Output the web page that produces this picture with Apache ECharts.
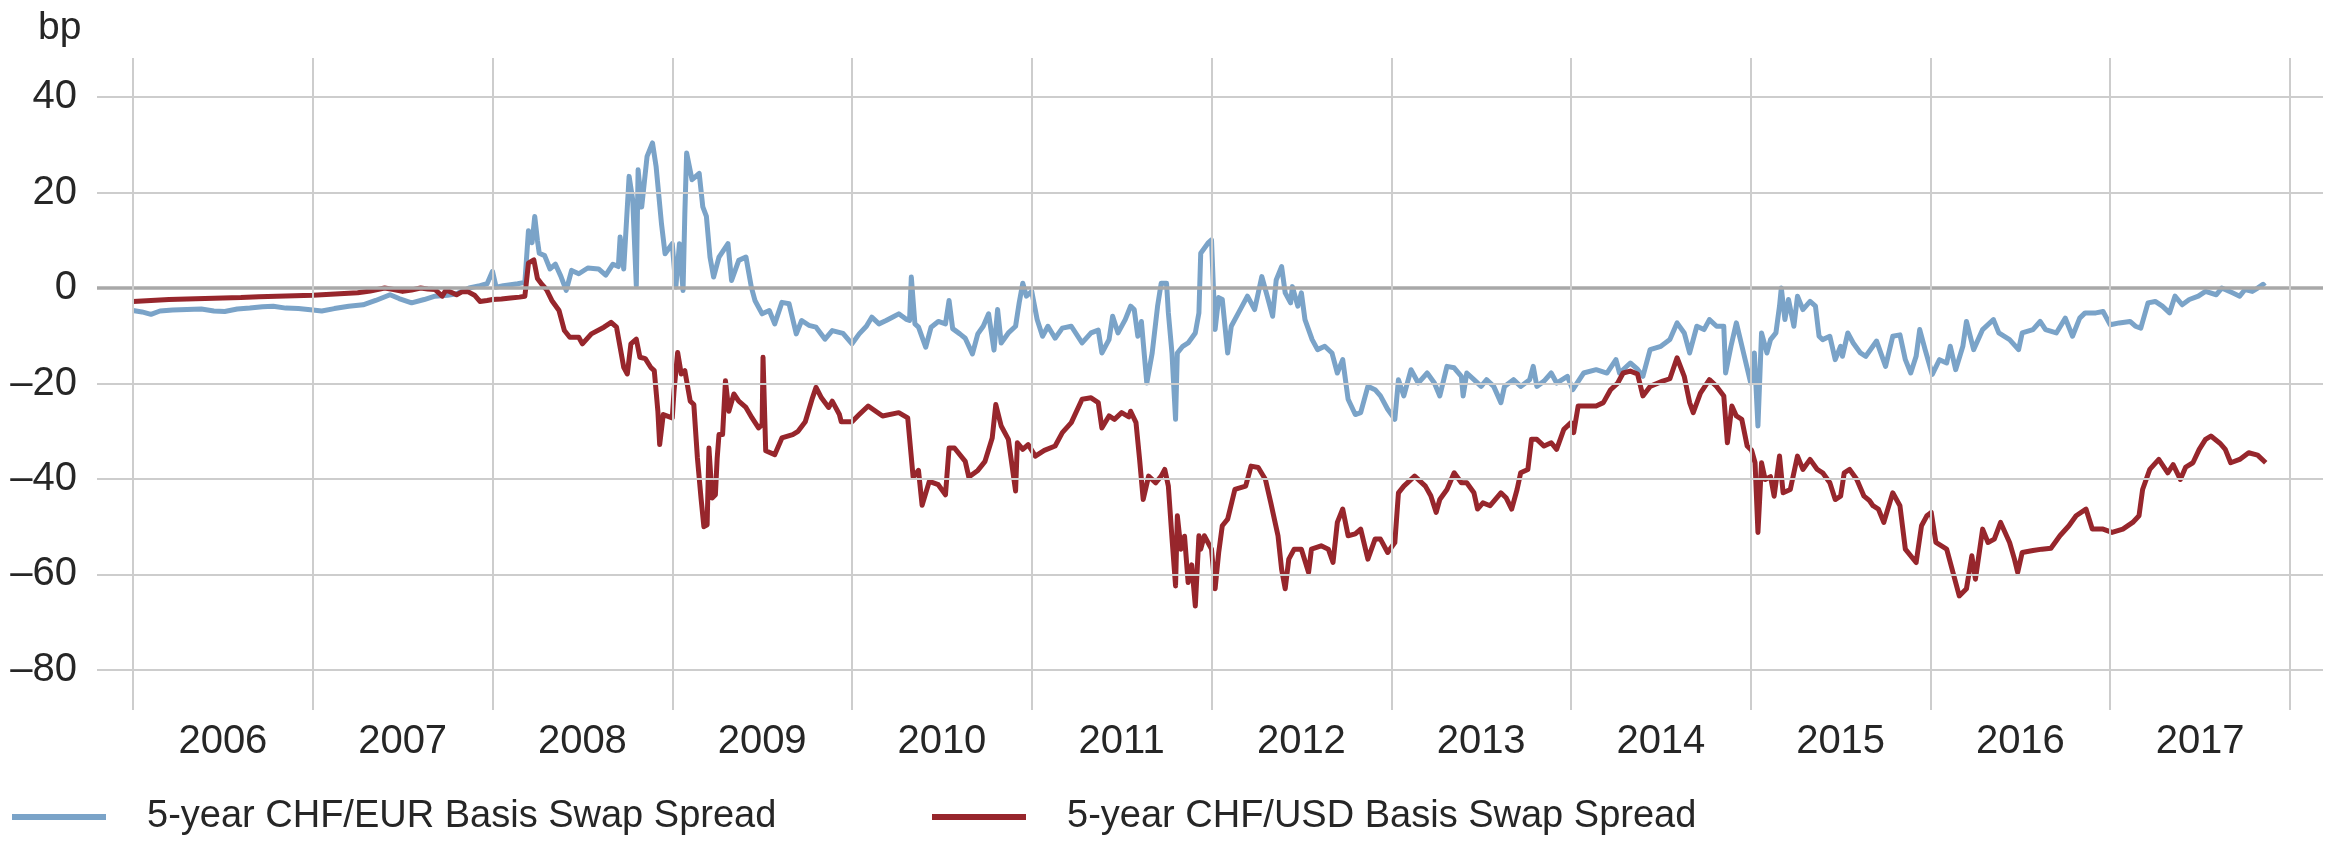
<!DOCTYPE html>
<html>
<head>
<meta charset="utf-8">
<title>5-year CHF basis swap spreads</title>
<script src="https://cdn.jsdelivr.net/npm/echarts@6.0.0/dist/echarts.min.js"></script>
<style>
  html, body { margin: 0; padding: 0; background: #fff; }
  #chart { width: 2338px; height: 841px; }
</style>
</head>
<body>
<div id="chart"></div>
<script>
// x = decimal year, y = spread in bp
const yearLabels = [2006, 2007, 2008, 2009, 2010, 2011, 2012, 2013, 2014, 2015, 2016, 2017];
const yearLines = [2006, 2007, 2008, 2009, 2010, 2011, 2012, 2013, 2014, 2015, 2016, 2017, 2018];
const valueTicks = [-80, -60, -40, -20, 0, 20, 40];
const seriesNames = ['5-year CHF/EUR Basis Swap Spread', '5-year CHF/USD Basis Swap Spread'];

const chfEur = [
  [2006.00,-4.7],[2006.05,-5.0],[2006.10,-5.5],[2006.15,-4.8],[2006.22,-4.6],[2006.30,-4.5],[2006.38,-4.4],
  [2006.45,-4.8],[2006.51,-4.9],[2006.58,-4.4],[2006.65,-4.2],[2006.72,-3.9],[2006.78,-3.8],[2006.85,-4.2],
  [2006.92,-4.3],[2007.00,-4.6],[2007.05,-4.8],[2007.12,-4.3],[2007.20,-3.8],[2007.28,-3.5],[2007.35,-2.6],
  [2007.43,-1.4],[2007.48,-2.2],[2007.55,-3.1],[2007.62,-2.4],[2007.68,-1.7],[2007.75,-1.5],[2007.80,-1.2],
  [2007.87,0.0],[2007.93,0.5],[2007.97,0.9],[2008.00,3.5],[2008.02,0.2],[2008.06,0.5],[2008.10,0.7],
  [2008.14,0.9],[2008.18,1.2],[2008.20,12.0],[2008.22,9.5],[2008.235,15.0],[2008.25,10.0],[2008.26,7.3],
  [2008.29,6.8],[2008.32,4.0],[2008.35,5.0],[2008.38,2.5],[2008.41,-0.5],[2008.44,3.7],[2008.48,3.0],
  [2008.53,4.2],[2008.59,4.0],[2008.63,2.7],[2008.67,5.0],[2008.70,4.5],[2008.71,10.7],[2008.73,4.0],
  [2008.76,23.4],[2008.78,18.5],[2008.80,0.5],[2008.81,24.8],[2008.83,17.0],[2008.86,27.6],[2008.89,30.4],
  [2008.91,25.5],[2008.94,13.5],[2008.96,7.2],[2009.00,9.3],[2009.02,0.2],[2009.04,9.3],[2009.06,-0.5],
  [2009.07,15.6],[2009.08,28.3],[2009.11,22.7],[2009.15,24.0],[2009.17,17.0],[2009.19,15.0],[2009.21,6.5],
  [2009.23,2.3],[2009.26,6.5],[2009.31,9.3],[2009.33,1.6],[2009.37,5.8],[2009.41,6.5],[2009.44,0.2],
  [2009.46,-2.6],[2009.50,-5.4],[2009.54,-4.7],[2009.57,-7.5],[2009.61,-3.0],[2009.65,-3.3],[2009.69,-9.6],
  [2009.72,-6.8],[2009.76,-7.8],[2009.80,-8.2],[2009.85,-10.7],[2009.89,-8.9],[2009.95,-9.5],[2010.00,-11.7],
  [2010.04,-9.6],[2010.08,-8.0],[2010.11,-6.1],[2010.15,-7.5],[2010.19,-6.8],[2010.23,-6.0],[2010.26,-5.4],
  [2010.30,-6.5],[2010.32,-6.8],[2010.33,2.3],[2010.35,-7.5],[2010.37,-8.2],[2010.41,-12.4],[2010.44,-8.2],
  [2010.48,-7.0],[2010.52,-7.5],[2010.54,-2.6],[2010.56,-8.5],[2010.60,-9.6],[2010.63,-10.5],[2010.67,-13.8],
  [2010.70,-9.6],[2010.73,-8.0],[2010.76,-5.4],[2010.79,-13.0],[2010.81,-4.5],[2010.83,-11.5],[2010.87,-9.4],
  [2010.91,-8.0],[2010.93,-3.1],[2010.95,1.0],[2010.97,-1.7],[2011.00,-0.7],[2011.03,-6.6],[2011.06,-10.1],
  [2011.09,-8.0],[2011.13,-10.5],[2011.17,-8.4],[2011.22,-8.0],[2011.28,-11.5],[2011.33,-9.4],[2011.37,-8.8],
  [2011.39,-13.6],[2011.43,-10.8],[2011.45,-5.9],[2011.48,-9.4],[2011.52,-6.6],[2011.55,-3.8],[2011.57,-4.5],
  [2011.59,-10.1],[2011.61,-7.0],[2011.64,-19.9],[2011.67,-13.6],[2011.70,-3.8],[2011.72,1.0],[2011.75,1.0],
  [2011.76,-5.2],[2011.78,-13.6],[2011.80,-27.5],[2011.81,-13.6],[2011.84,-12.2],[2011.87,-11.5],[2011.91,-9.4],
  [2011.93,-5.2],[2011.94,7.3],[2011.98,9.4],[2012.00,10.1],[2012.02,-8.7],[2012.04,-2.0],[2012.06,-2.4],
  [2012.09,-13.6],[2012.11,-8.0],[2012.15,-5.2],[2012.20,-1.7],[2012.24,-4.5],[2012.28,2.4],[2012.31,-1.7],
  [2012.34,-5.9],[2012.36,1.7],[2012.39,4.5],[2012.41,-1.0],[2012.44,-3.1],[2012.45,0.3],[2012.48,-3.8],
  [2012.50,-1.0],[2012.52,-6.6],[2012.56,-10.8],[2012.59,-12.9],[2012.63,-12.2],[2012.67,-13.6],[2012.70,-17.8],
  [2012.73,-15.0],[2012.76,-23.3],[2012.80,-26.5],[2012.83,-26.1],[2012.87,-20.6],[2012.91,-21.3],[2012.94,-22.6],
  [2012.98,-25.4],[2013.02,-27.5],[2013.04,-19.2],[2013.07,-22.6],[2013.11,-17.1],[2013.15,-19.9],[2013.20,-17.8],
  [2013.24,-19.9],[2013.27,-22.6],[2013.31,-16.4],[2013.35,-16.7],[2013.39,-18.5],[2013.40,-22.6],[2013.42,-17.8],
  [2013.46,-19.2],[2013.50,-20.6],[2013.53,-19.2],[2013.57,-20.6],[2013.61,-24.0],[2013.63,-20.6],[2013.68,-19.2],
  [2013.72,-20.6],[2013.77,-19.2],[2013.79,-16.4],[2013.81,-20.6],[2013.85,-19.5],[2013.89,-17.8],[2013.92,-19.9],
  [2013.98,-18.5],[2014.01,-21.3],[2014.07,-17.8],[2014.14,-17.1],[2014.20,-17.8],[2014.25,-15.0],[2014.27,-17.8],
  [2014.33,-15.7],[2014.37,-17.0],[2014.40,-18.5],[2014.44,-12.9],[2014.50,-12.2],[2014.55,-10.8],[2014.59,-7.3],
  [2014.63,-9.4],[2014.66,-13.6],[2014.70,-8.0],[2014.74,-8.7],[2014.77,-6.6],[2014.81,-8.0],[2014.85,-8.0],
  [2014.86,-17.8],[2014.89,-12.2],[2014.92,-7.3],[2014.96,-13.6],[2015.00,-19.9],[2015.02,-13.6],[2015.04,-28.9],
  [2015.06,-9.4],[2015.09,-13.6],[2015.11,-10.8],[2015.14,-9.4],[2015.16,-3.8],[2015.17,0.0],[2015.19,-6.6],
  [2015.21,-2.4],[2015.24,-8.0],[2015.26,-1.7],[2015.29,-4.5],[2015.33,-2.8],[2015.36,-3.8],[2015.38,-10.1],
  [2015.40,-10.8],[2015.44,-10.1],[2015.47,-15.0],[2015.50,-12.2],[2015.51,-14.3],[2015.54,-9.4],[2015.57,-11.5],
  [2015.61,-13.6],[2015.64,-14.3],[2015.70,-11.1],[2015.75,-16.4],[2015.79,-10.1],[2015.83,-9.8],[2015.86,-15.0],
  [2015.89,-17.8],[2015.92,-14.3],[2015.94,-8.7],[2015.97,-12.9],[2016.01,-18.1],[2016.05,-15.0],[2016.09,-15.7],
  [2016.11,-12.2],[2016.14,-17.1],[2016.18,-12.2],[2016.20,-7.0],[2016.24,-12.9],[2016.29,-8.7],[2016.35,-6.6],
  [2016.38,-9.4],[2016.44,-10.8],[2016.49,-12.9],[2016.51,-9.4],[2016.57,-8.7],[2016.61,-7.0],[2016.64,-8.7],
  [2016.70,-9.4],[2016.75,-6.3],[2016.79,-10.1],[2016.83,-6.3],[2016.86,-5.2],[2016.92,-5.2],[2016.96,-4.9],
  [2017.00,-7.7],[2017.05,-7.3],[2017.11,-7.0],[2017.14,-8.0],[2017.17,-8.4],[2017.21,-3.1],[2017.25,-2.8],
  [2017.29,-3.8],[2017.33,-5.2],[2017.36,-1.7],[2017.40,-3.5],[2017.44,-2.4],[2017.49,-1.7],[2017.53,-0.7],
  [2017.59,-1.4],[2017.62,0.0],[2017.68,-1.0],[2017.72,-1.7],[2017.75,-0.3],[2017.79,-0.7],[2017.82,0.0],
  [2017.85,0.8],[2017.86,0.4]
];

const chfUsd = [
  [2006.00,-2.8],[2006.10,-2.6],[2006.20,-2.4],[2006.30,-2.3],[2006.40,-2.2],[2006.50,-2.1],[2006.60,-2.0],
  [2006.70,-1.8],[2006.80,-1.7],[2006.90,-1.6],[2007.00,-1.5],[2007.10,-1.3],[2007.20,-1.1],[2007.25,-1.0],
  [2007.32,-0.6],[2007.40,0.0],[2007.45,-0.3],[2007.50,-0.7],[2007.55,-0.4],[2007.60,0.0],[2007.64,-0.2],
  [2007.68,-0.3],[2007.72,-1.7],[2007.74,-0.5],[2007.76,-0.7],[2007.80,-1.4],[2007.83,-0.8],[2007.86,-0.7],
  [2007.90,-1.5],[2007.93,-2.8],[2007.97,-2.6],[2008.00,-2.4],[2008.05,-2.3],[2008.10,-2.1],[2008.15,-1.9],
  [2008.18,-1.7],[2008.20,5.2],[2008.23,5.9],[2008.25,2.0],[2008.27,1.0],[2008.30,-0.3],[2008.33,-2.6],
  [2008.37,-4.7],[2008.40,-8.9],[2008.43,-10.3],[2008.48,-10.3],[2008.50,-11.7],[2008.55,-9.6],[2008.62,-8.2],
  [2008.66,-7.2],[2008.69,-8.2],[2008.71,-12.4],[2008.73,-16.6],[2008.75,-18.0],[2008.77,-11.7],[2008.80,-10.7],
  [2008.82,-14.5],[2008.85,-14.8],[2008.88,-16.6],[2008.90,-17.3],[2008.92,-25.8],[2008.93,-32.8],[2008.95,-26.5],
  [2009.00,-27.2],[2009.01,-21.5],[2009.03,-13.5],[2009.05,-18.0],[2009.07,-17.3],[2009.10,-23.7],[2009.12,-24.4],
  [2009.14,-35.6],[2009.16,-44.0],[2009.176,-50.0],[2009.194,-49.6],[2009.204,-33.5],[2009.222,-44.0],
  [2009.24,-43.3],[2009.25,-35.6],[2009.26,-30.7],[2009.28,-30.7],[2009.296,-19.4],[2009.315,-25.8],
  [2009.343,-22.2],[2009.37,-23.7],[2009.41,-25.0],[2009.444,-27.2],[2009.48,-29.3],[2009.50,-28.6],
  [2009.505,-14.5],[2009.52,-34.1],[2009.57,-34.9],[2009.61,-31.4],[2009.67,-30.7],[2009.70,-30.0],
  [2009.74,-28.0],[2009.78,-23.0],[2009.80,-20.8],[2009.83,-23.0],[2009.87,-25.0],[2009.89,-23.7],
  [2009.93,-26.5],[2009.94,-28.0],[2010.00,-28.0],[2010.04,-26.5],[2010.09,-24.7],[2010.17,-26.8],
  [2010.26,-26.1],[2010.31,-27.2],[2010.34,-39.6],[2010.37,-38.2],[2010.39,-45.5],[2010.43,-40.5],
  [2010.48,-41.2],[2010.52,-43.3],[2010.54,-33.5],[2010.57,-33.5],[2010.63,-36.3],[2010.65,-39.6],
  [2010.70,-38.2],[2010.74,-36.3],[2010.78,-31.4],[2010.80,-24.4],[2010.83,-28.9],[2010.87,-31.7],
  [2010.91,-42.5],[2010.92,-32.4],[2010.95,-33.8],[2010.98,-32.8],[2011.02,-35.2],[2011.07,-34.0],
  [2011.13,-33.1],[2011.17,-30.3],[2011.22,-28.2],[2011.28,-23.3],[2011.33,-23.0],[2011.37,-24.0],
  [2011.39,-29.3],[2011.43,-26.8],[2011.46,-27.5],[2011.50,-26.1],[2011.54,-27.0],[2011.55,-25.8],
  [2011.58,-28.2],[2011.60,-35.9],[2011.62,-44.3],[2011.65,-39.4],[2011.69,-40.8],[2011.72,-39.4],
  [2011.74,-38.0],[2011.76,-41.5],[2011.78,-52.3],[2011.80,-62.4],[2011.81,-47.7],[2011.83,-54.7],
  [2011.85,-52.0],[2011.87,-61.7],[2011.89,-58.0],[2011.91,-66.6],[2011.93,-51.9],[2011.94,-54.7],
  [2011.96,-51.9],[2012.00,-54.7],[2012.02,-63.0],[2012.04,-55.4],[2012.06,-49.8],[2012.09,-48.4],
  [2012.13,-42.2],[2012.19,-41.5],[2012.22,-37.3],[2012.26,-37.6],[2012.30,-40.1],[2012.33,-45.0],
  [2012.37,-51.9],[2012.39,-58.9],[2012.41,-63.0],[2012.43,-56.8],[2012.46,-54.7],[2012.50,-54.7],
  [2012.54,-59.6],[2012.556,-54.7],[2012.61,-54.0],[2012.65,-54.7],[2012.676,-57.5],[2012.70,-49.1],
  [2012.73,-46.3],[2012.76,-51.9],[2012.80,-51.5],[2012.83,-50.5],[2012.87,-56.8],[2012.91,-52.6],
  [2012.94,-52.6],[2012.98,-55.4],[2013.02,-53.3],[2013.04,-42.9],[2013.07,-41.5],[2013.13,-39.4],
  [2013.19,-41.5],[2013.22,-43.5],[2013.25,-47.0],[2013.27,-44.3],[2013.31,-42.2],[2013.35,-38.7],
  [2013.39,-40.8],[2013.42,-40.8],[2013.46,-42.9],[2013.48,-46.3],[2013.51,-45.0],[2013.55,-45.6],
  [2013.61,-42.9],[2013.64,-44.0],[2013.67,-46.3],[2013.70,-42.2],[2013.72,-38.7],[2013.76,-38.0],
  [2013.78,-31.7],[2013.81,-31.7],[2013.85,-33.1],[2013.89,-32.4],[2013.92,-33.8],[2013.96,-29.6],
  [2014.00,-28.2],[2014.015,-30.3],[2014.04,-24.7],[2014.09,-24.7],[2014.14,-24.7],[2014.18,-24.0],
  [2014.22,-21.3],[2014.26,-19.9],[2014.29,-17.8],[2014.33,-17.4],[2014.37,-18.0],[2014.40,-22.6],
  [2014.44,-20.6],[2014.51,-19.5],[2014.55,-19.0],[2014.59,-14.6],[2014.63,-18.5],[2014.66,-24.0],
  [2014.68,-26.1],[2014.72,-22.0],[2014.77,-19.2],[2014.81,-20.6],[2014.85,-22.6],[2014.87,-32.4],
  [2014.895,-24.7],[2014.92,-26.8],[2014.95,-27.5],[2014.98,-33.1],[2015.005,-34.0],[2015.024,-36.6],
  [2015.04,-51.2],[2015.06,-36.6],[2015.08,-40.1],[2015.11,-39.5],[2015.13,-43.6],[2015.16,-35.2],
  [2015.18,-42.9],[2015.22,-42.2],[2015.26,-35.2],[2015.29,-38.0],[2015.33,-35.9],[2015.37,-38.0],
  [2015.40,-38.7],[2015.44,-40.8],[2015.47,-44.3],[2015.50,-43.6],[2015.52,-38.7],[2015.55,-38.0],
  [2015.59,-40.1],[2015.63,-43.6],[2015.66,-44.5],[2015.68,-45.6],[2015.71,-46.3],[2015.74,-49.1],
  [2015.79,-42.9],[2015.83,-45.6],[2015.86,-54.7],[2015.92,-57.5],[2015.95,-49.8],[2015.98,-47.7],
  [2016.004,-47.0],[2016.03,-53.3],[2016.09,-54.7],[2016.12,-58.9],[2016.16,-64.5],[2016.20,-63.0],
  [2016.23,-56.1],[2016.25,-61.0],[2016.29,-50.5],[2016.32,-53.3],[2016.355,-52.6],[2016.39,-49.1],
  [2016.44,-53.3],[2016.467,-56.8],[2016.485,-59.6],[2016.51,-55.4],[2016.57,-55.0],[2016.62,-54.7],
  [2016.67,-54.5],[2016.72,-51.9],[2016.77,-49.8],[2016.81,-47.7],[2016.865,-46.3],[2016.90,-50.5],
  [2016.96,-50.5],[2017.01,-51.2],[2017.07,-50.5],[2017.125,-49.1],[2017.16,-47.7],[2017.18,-42.2],
  [2017.22,-38.0],[2017.27,-35.9],[2017.32,-38.7],[2017.35,-37.0],[2017.39,-40.1],[2017.42,-37.5],
  [2017.46,-36.6],[2017.495,-33.8],[2017.53,-31.7],[2017.56,-31.0],[2017.61,-32.5],[2017.64,-33.8],
  [2017.67,-36.6],[2017.72,-35.9],[2017.77,-34.5],[2017.82,-35.0],[2017.865,-36.6]
];

const FONT = '"Liberation Sans", Arial, sans-serif';
const TEXT_COLOR = '#262626';

let chart = echarts.init(document.getElementById('chart'), null, { renderer: 'canvas' });

// grid lines as mark lines on a data-less series, so they sit below the two spreads
let gridLines = [];
valueTicks.forEach(v => {
  gridLines.push({
    yAxis: v,
    lineStyle: v === 0
      ? { color: '#a8a8a8', width: 3.5, type: 'solid' }
      : { color: '#cdcdcd', width: 2, type: 'solid' }
  });
});
yearLines.forEach(y => {
  gridLines.push({ xAxis: y, lineStyle: { color: '#cdcdcd', width: 2, type: 'solid' } });
});

let legendBase = {
  orient: 'horizontal',
  top: 793,
  padding: 5,
  icon: 'rect',
  itemWidth: 94,
  itemHeight: 6,
  selectedMode: false,
  textStyle: {
    fontFamily: FONT,
    fontSize: 38,
    color: TEXT_COLOR,
    padding: [0, 0, 0, 36]
  }
};

let option = {
  animation: false,
  backgroundColor: '#fff',
  title: {
    text: 'bp',
    left: 33,
    top: 4,
    textStyle: { fontFamily: FONT, fontSize: 39, fontWeight: 'normal', color: TEXT_COLOR }
  },
  legend: [
    Object.assign({}, legendBase, { left: 7, data: [seriesNames[0]] }),
    Object.assign({}, legendBase, { left: 927, data: [seriesNames[1]] })
  ],
  grid: { left: 97, right: 15, top: 58, bottom: 131 },
  xAxis: {
    type: 'value',
    min: 2005.7997,
    max: 2018.1836,
    axisLine: { show: false },
    axisTick: { show: false },
    splitLine: { show: false },
    axisLabel: {
      customValues: yearLabels.map(y => y + 0.5),
      formatter: v => String(Math.floor(v)),
      fontFamily: FONT,
      fontSize: 40,
      color: TEXT_COLOR,
      margin: 12
    }
  },
  yAxis: {
    type: 'value',
    min: -88.4,
    max: 48.2,
    axisLine: { show: false },
    axisTick: { show: false },
    splitLine: { show: false },
    axisLabel: {
      customValues: valueTicks,
      formatter: v => (v < 0 ? '\u2013' + Math.abs(v) : String(v)),
      fontFamily: FONT,
      fontSize: 40,
      color: TEXT_COLOR,
      margin: 20
    }
  },
  series: [
    {
      name: 'grid',
      type: 'line',
      data: [],
      z: 1,
      silent: true,
      markLine: {
        silent: true,
        symbol: ['none', 'none'],
        label: { show: false },
        emphasis: { disabled: true },
        data: gridLines
      }
    },
    {
      name: seriesNames[0],
      type: 'line',
      data: chfEur,
      z: 3,
      showSymbol: false,
      color: '#7aa3c8',
      lineStyle: { width: 5, color: '#7aa3c8', join: 'round' },
      emphasis: { disabled: true }
    },
    {
      name: seriesNames[1],
      type: 'line',
      data: chfUsd,
      z: 4,
      showSymbol: false,
      color: '#97262c',
      lineStyle: { width: 5, color: '#97262c', join: 'round' },
      emphasis: { disabled: true }
    }
  ]
};

chart.setOption(option);
</script>
</body>
</html>
